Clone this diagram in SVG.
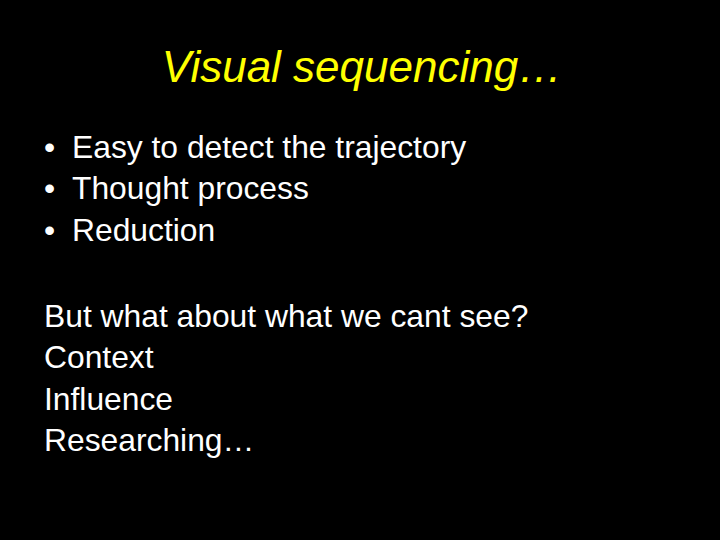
<svg xmlns="http://www.w3.org/2000/svg" width="720" height="540" viewBox="0 0 720 540">
<style>
.t{font-family:"Liberation Sans",Arial,sans-serif;fill:#fff;font-size:31.8px}
</style>
<rect width="720" height="540" fill="#000"/>
<text x="362" y="82" text-anchor="middle" font-family="Liberation Sans,Arial,sans-serif" font-style="italic" font-size="44" fill="#ffff00">Visual sequencing…</text>
<g class="t">
<text x="44" y="158">•</text><text x="72" y="158">Easy to detect the trajectory</text>
<text x="44" y="199">•</text><text x="72" y="199">Thought process</text>
<text x="44" y="241">•</text><text x="72" y="241">Reduction</text>
<text x="44" y="327">But what about what we cant see?</text>
<text x="44" y="368">Context</text>
<text x="44" y="410">Influence</text>
<text x="44" y="451">Researching…</text>
</g>
</svg>
